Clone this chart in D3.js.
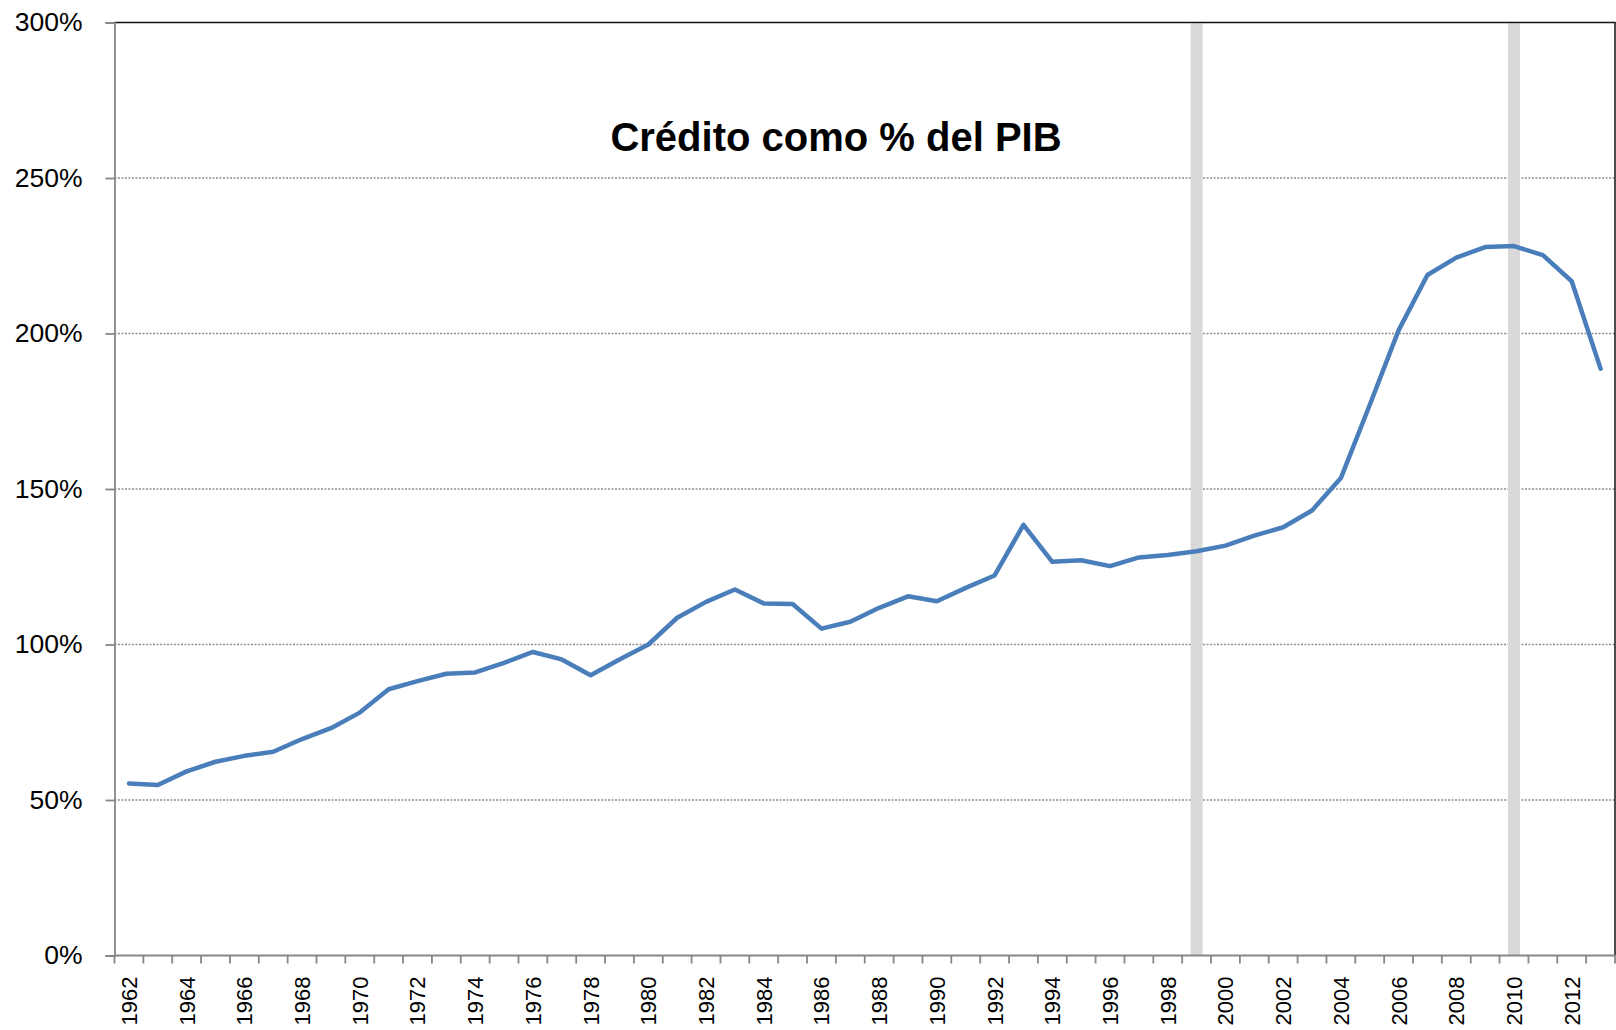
<!DOCTYPE html>
<html>
<head>
<meta charset="utf-8">
<script src="https://cdn.jsdelivr.net/npm/d3@7"></script>
<style>
  body { margin: 0; background: #fff; }
  svg { display: block; font-family: "Liberation Sans", Arial, sans-serif; }
</style>
</head>
<body>
<div class="chart"></div>
<script>
// categories (years) and credit as % of GDP
var years = [1962, 1963, 1964, 1965, 1966, 1967, 1968, 1969, 1970, 1971,
             1972, 1973, 1974, 1975, 1976, 1977, 1978, 1979, 1980, 1981,
             1982, 1983, 1984, 1985, 1986, 1987, 1988, 1989, 1990, 1991,
             1992, 1993, 1994, 1995, 1996, 1997, 1998, 1999, 2000, 2001,
             2002, 2003, 2004, 2005, 2006, 2007, 2008, 2009, 2010, 2011,
             2012, 2013];
var credit = [55.3, 54.8, 59.2, 62.3, 64.2, 65.5, 69.6, 73.1, 78.1, 85.6,
              88.2, 90.6, 91.0, 94.1, 97.6, 95.2, 90.1, 95.2, 100.0, 108.6,
              113.7, 117.7, 113.2, 113.0, 105.1, 107.3, 111.8, 115.5, 113.9, 118.2,
              122.2, 138.5, 126.6, 127.1, 125.2, 128.0, 128.8, 130.0, 131.8, 135.0,
              137.7, 143.1, 153.5, 177.0, 201.0, 218.8, 224.4, 227.8, 228.1, 225.2,
              216.8, 188.7];
// highlighted years (grey vertical bands)
var markYears = [1999, 2010];
var yTicks = [0, 50, 100, 150, 200, 250, 300];
var title = "Crédito como % del PIB";

function drawChart() {

  var data = years.map((y, i) => ({year: y, value: credit[i]}));

  var svgWidth = 1616, svgHeight = 1030;
  var margin = {left: 114.5, right: 1615, top: 22.5, bottom: 955.5};

  var svg = d3.select(".chart").append("svg")
    .attr("width", svgWidth)
    .attr("height", svgHeight);

  svg.append("rect")
    .attr("width", svgWidth).attr("height", svgHeight)
    .attr("fill", "#fff");

  // scales
  var xScale = d3.scaleBand()
    .domain(years)
    .range([margin.left, margin.right])
    .paddingInner(0).paddingOuter(0);

  var yScale = d3.scaleLinear()
    .domain([0, 300])
    .range([margin.bottom, margin.top]);

  // dotted gridlines
  svg.append("g")
    .selectAll("line")
    .data(yTicks.filter(d => d > 0 && d < 300))
    .enter().append("line")
    .attr("x1", margin.left).attr("x2", margin.right)
    .attr("y1", d => yScale(d)).attr("y2", d => yScale(d))
    .attr("stroke", "#8f8f8f")
    .attr("stroke-width", 1.3)
    .attr("stroke-dasharray", "2,1.5");

  // grey marker bands
  svg.append("g")
    .selectAll("rect")
    .data(markYears)
    .enter().append("rect")
    .attr("x", d => xScale(d) + xScale.bandwidth() / 2 - 6)
    .attr("width", 12)
    .attr("y", margin.top + 1)
    .attr("height", margin.bottom - margin.top - 1)
    .attr("fill", "#d9d9d9");

  // plot border (top + right)
  svg.append("path")
    .attr("d", "M" + margin.left + "," + margin.top + "H" + margin.right + "V" + margin.bottom)
    .attr("fill", "none")
    .attr("stroke", "#111")
    .attr("stroke-width", 1.5);

  // the line
  var line = d3.line()
    .x(d => xScale(d.year) + xScale.bandwidth() / 2)
    .y(d => yScale(d.value));

  svg.append("path")
    .datum(data)
    .attr("d", line)
    .attr("fill", "none")
    .attr("stroke", "#4a7ebb")
    .attr("stroke-width", 4.5)
    .attr("stroke-linejoin", "round")
    .attr("stroke-linecap", "round");

  // y axis
  var yAxis = svg.append("g")
    .attr("transform", "translate(" + margin.left + ",0)")
    .call(d3.axisLeft(yScale)
      .tickValues(yTicks)
      .tickSize(9)
      .tickPadding(23)
      .tickFormat(d => d + "%"));

  yAxis.select(".domain").attr("stroke", "#878787").attr("stroke-width", 1.8);
  yAxis.selectAll(".tick line").attr("stroke", "#878787").attr("stroke-width", 1.8);
  yAxis.selectAll(".tick text")
    .attr("fill", "#000")
    .style("font-size", "26.5px")
    .style("font-family", "'Liberation Sans', Arial, sans-serif");

  // x axis: labels on even years, ticks on category edges
  var xAxis = svg.append("g")
    .attr("transform", "translate(0," + margin.bottom + ")")
    .call(d3.axisBottom(xScale)
      .tickValues(years.filter(d => d % 2 == 0))
      .tickSize(0));

  xAxis.select(".domain").remove();
  xAxis.selectAll(".tick text")
    .attr("fill", "#000")
    .attr("text-anchor", "end")
    .attr("transform", "translate(0,21) rotate(-90)")
    .attr("x", 0).attr("y", 0).attr("dy", "0.36em")
    .style("font-size", "22px")
    .style("font-family", "'Liberation Sans', Arial, sans-serif");

  var edges = years.map(d => xScale(d)).concat([xScale(years[years.length - 1]) + xScale.bandwidth()]);
  xAxis.append("g")
    .selectAll("line")
    .data(edges)
    .enter().append("line")
    .attr("x1", d => d).attr("x2", d => d)
    .attr("y1", 0).attr("y2", 8)
    .attr("stroke", "#878787")
    .attr("stroke-width", 1.8);

  xAxis.append("line")
    .attr("x1", margin.left).attr("x2", margin.right)
    .attr("stroke", "#878787")
    .attr("stroke-width", 1.8);

  // title
  svg.append("text")
    .attr("x", 836)
    .attr("y", 151)
    .attr("text-anchor", "middle")
    .style("font-size", "40px")
    .style("font-weight", "bold")
    .style("font-family", "'Liberation Sans', Arial, sans-serif")
    .text(title);
}

drawChart();
</script>
</body>
</html>
